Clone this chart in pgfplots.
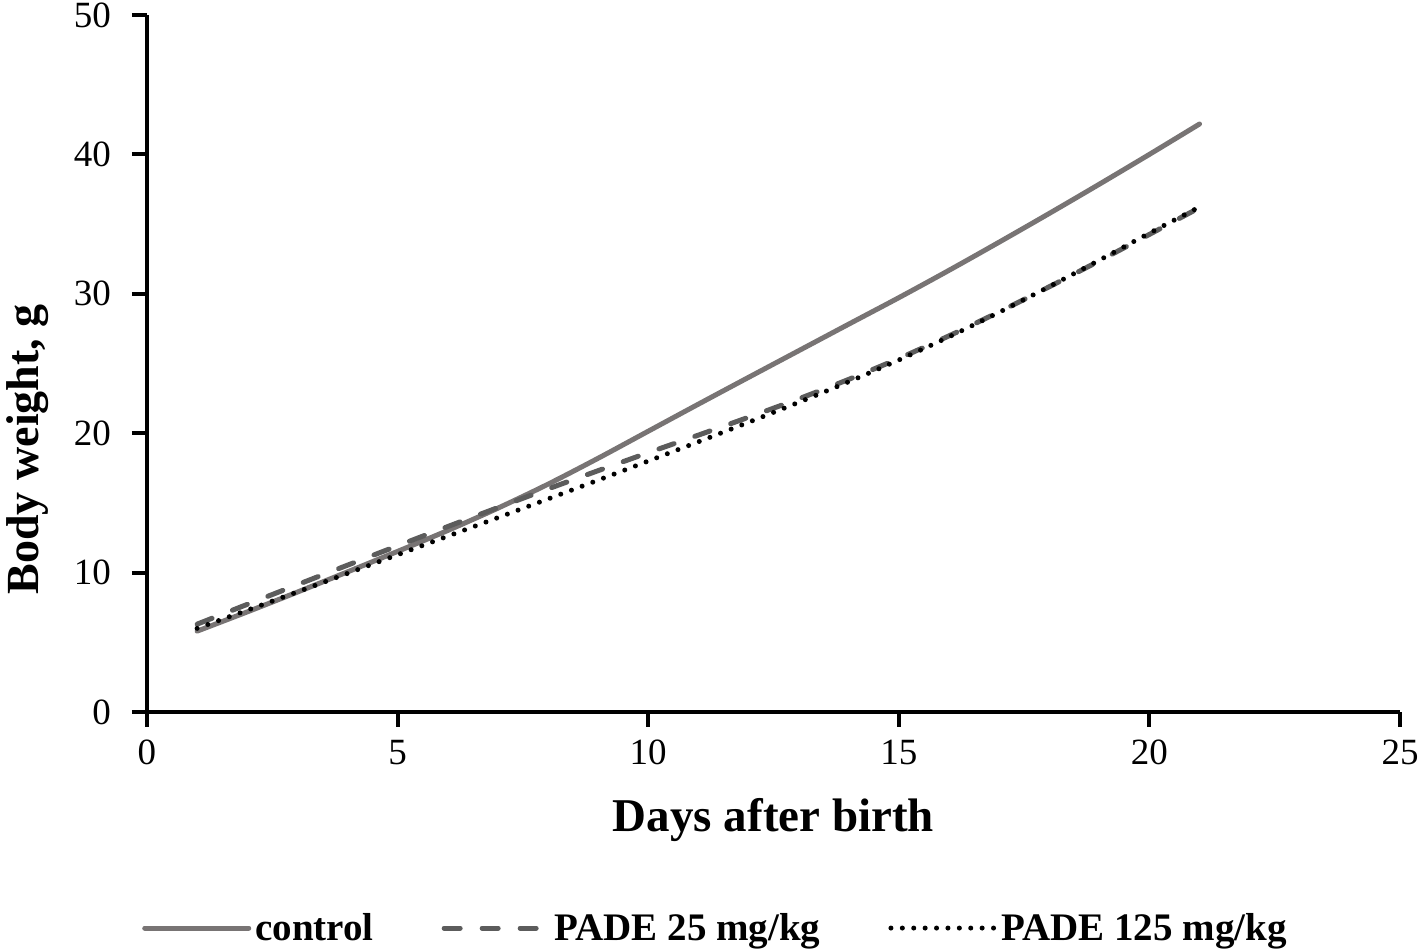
\documentclass[border=0pt]{standalone}
\usepackage{pgfplots}
\pgfplotsset{compat=1.18}
\usepackage{fontspec}
\setmainfont{Liberation Serif}

\definecolor{ctrlgray}{RGB}{120,116,116}
\definecolor{dashgray}{RGB}{92,92,92}

\begin{document}
\begin{tikzpicture}
  \begin{axis}[
      scale only axis, width=626.5pt, height=348.5pt,
      xmin=0, xmax=25, ymin=0, ymax=50,
      xtick={0,5,...,25}, ytick={0,10,...,50},
      axis lines=left,
      axis line style={-, line width=2pt},
      tick style={line width=2pt, black},
      tick align=outside, major tick length=7.5pt,
      /pgf/number format/assume math mode=true,
      ticklabel style={font=\fontsize{18.5}{20}\selectfont},
      yticklabel style={xshift=-7pt},
      xticklabel style={yshift=-3pt},
      xlabel={Days after birth},
      ylabel={Body weight, g},
      xlabel style={font=\fontsize{23.5}{26}\selectfont\bfseries,
        at={(axis description cs:0.5,0)}, anchor=center, yshift=-54pt},
      ylabel style={font=\fontsize{23}{26}\selectfont\bfseries,
        at={(axis description cs:-0.0955,0.377)}, anchor=center},
      legend style={at={(axis description cs:0.4545,-0.31)}, anchor=center,
        draw=none, legend columns=3,
        font=\fontsize{19.5}{22}\selectfont\bfseries,
        /tikz/every even column/.append style={column sep=32pt},
        legend cell align=left},
      legend image code/.code={\draw[#1] (0pt,0pt) -- (52pt,0pt);},
    ]
    % control
    \addplot[smooth, ctrlgray, line width=2.5pt, line cap=round] coordinates {
      (1,5.8) (2,7.18) (3,8.60) (4,10.05) (5,11.52) (6,13.02) (7,14.62)
      (8,16.34) (9,18.20) (10,20.14) (11,22.08) (12,24.00) (13,25.91)
      (14,27.82) (15,29.72) (16,31.68) (17,33.70) (18,35.76) (19,37.86)
      (20,40.00) (21,42.18)};
    % PADE 25
    \addplot[smooth, dashgray, line width=2.5pt, line cap=round,
      dash pattern=on 8pt off 11pt] coordinates {
      (1,6.3) (2,7.72) (3,9.13) (4,10.53) (5,11.92) (6,13.30) (7,14.66)
      (8,16.00) (9,17.31) (10,18.60) (11,19.86) (12,21.14) (13,22.46)
      (14,23.86) (15,25.36) (16,26.98) (17,28.70) (18,30.50) (19,32.36)
      (20,34.26) (21,36.18)};
    % PADE 125
    \addplot[smooth, black, line width=2.5pt, line cap=round,
      dash pattern=on 0pt off 5.7pt] coordinates {
      (1,6.0) (2,7.30) (3,8.61) (4,9.94) (5,11.28) (6,12.61) (7,13.94)
      (8,15.28) (9,16.63) (10,18.00) (11,19.38) (12,20.78) (13,22.21)
      (14,23.69) (15,25.25) (16,26.91) (17,28.67) (18,30.51) (19,32.41)
      (20,34.35) (21,36.23)};
    \legend{control, PADE 25 mg/kg, PADE 125 mg/kg}
    \coordinate (sw) at (rel axis cs:0,0);
    \coordinate (ne) at (rel axis cs:1,1);
  \end{axis}
  \pgfresetboundingbox
  \path[use as bounding box] ([shift={(-73.5pt,-118.5pt)}]sw) rectangle ([shift={(9pt,7.5pt)}]ne);
\end{tikzpicture}
\end{document}
